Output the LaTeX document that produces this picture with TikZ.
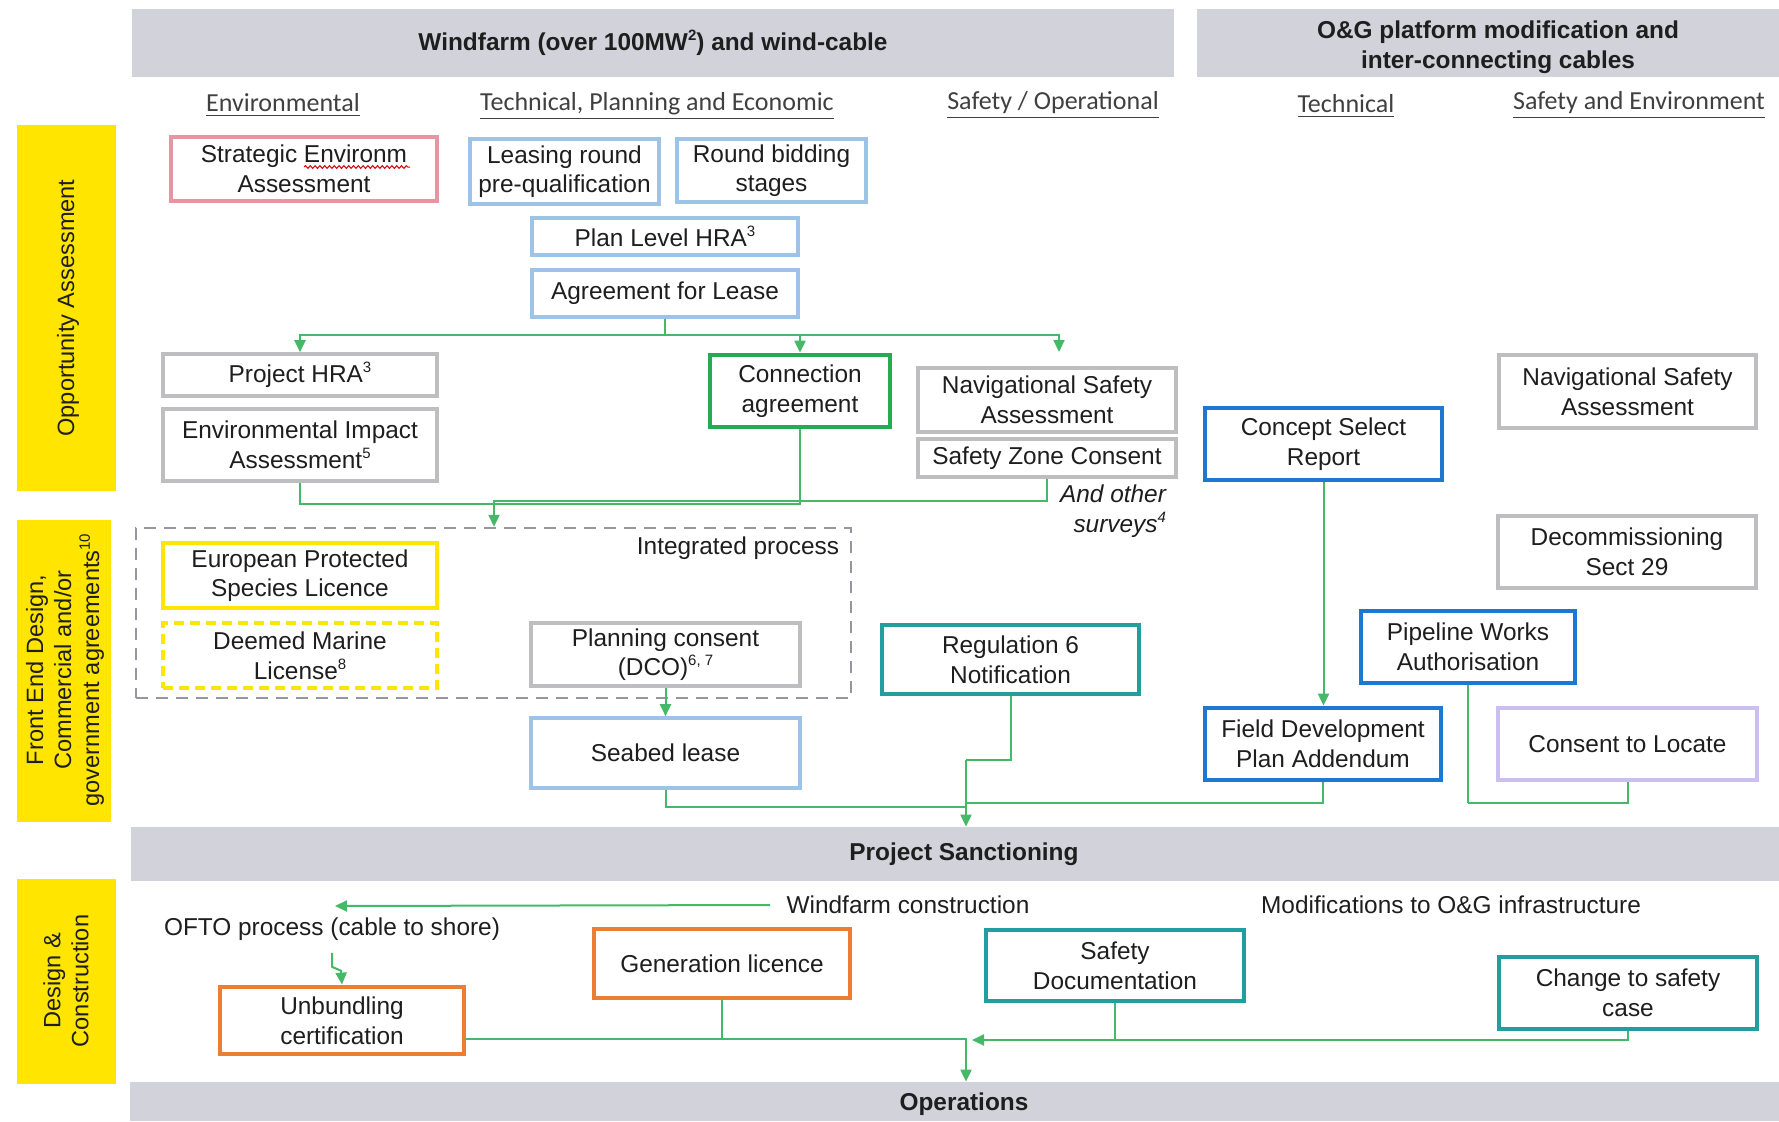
\documentclass[tikz,border=0pt]{standalone}
\usepackage{fontspec}
\setmainfont{Liberation Sans}
\newfontfamily\calibfont{Carlito}
\usetikzlibrary{arrows.meta,decorations.pathmorphing}
\definecolor{bandc}{RGB}{210,211,218}
\definecolor{ybar}{RGB}{255,229,0}
\definecolor{lblue}{RGB}{157,195,230}
\definecolor{pinkb}{RGB}{230,150,162}
\definecolor{grayb}{RGB}{190,190,192}
\definecolor{greenb}{RGB}{40,170,80}
\definecolor{blueb}{RGB}{30,120,210}
\definecolor{tealb}{RGB}{35,158,158}
\definecolor{orangeb}{RGB}{237,125,49}
\definecolor{lavb}{RGB}{205,190,240}
\definecolor{conng}{RGB}{70,185,105}
\definecolor{dashg}{RGB}{150,150,160}
\definecolor{txt}{RGB}{30,30,30}
\definecolor{hdtxt}{RGB}{64,64,64}
\newcommand\boxfont{\fontsize{12.2}{14.8}\selectfont}
\newcommand\barfont{\fontsize{11.8}{14}\selectfont}
\newcommand\sups[1]{\raisebox{0.75ex}{\fontsize{7.5}{8}\selectfont #1}}
% box helper: style, name, x1, y1, x2, y2, text
\newcommand\bx[7]{\node[#1, minimum width={(#5-#3)*0.5pt}, minimum height={(#6-#4)*0.5pt}] (#2) at ({(#3+#5)/2},{(#4+#6)/2}) {#7};}
\begin{document}
\begin{tikzpicture}[x=0.5pt,y=-0.5pt,
  every node/.style={text=txt},
  box/.style={draw, fill=white, inner sep=0pt, align=center, font=\boxfont},
  lbbox/.style={box, draw=lblue, line width=1.8pt},
  pkbox/.style={box, draw=pinkb, line width=1.6pt},
  grbox/.style={box, draw=grayb, line width=1.8pt},
  gnbox/.style={box, draw=greenb, line width=2.4pt},
  blbox/.style={box, draw=blueb, line width=2.4pt},
  tlbox/.style={box, draw=tealb, line width=2.4pt},
  orbox/.style={box, draw=orangeb, line width=2.4pt},
  lvbox/.style={box, draw=lavb, line width=2pt},
  ylbox/.style={box, draw=ybar, line width=2pt},
  bandbox/.style={fill=bandc, draw=none, inner sep=0pt},
  ybarbox/.style={fill=ybar, draw=none, inner sep=0pt},
  dashbox/.style={draw=dashg, line width=1.2pt, dash pattern=on 6pt off 4pt, inner sep=0pt},
  hdr/.style={font=\bfseries\boxfont, align=center},
  colh/.style={font=\calibfont\fontsize{13}{15}\selectfont, text=hdtxt},
  plain/.style={font=\boxfont, align=center},
  barlab/.style={rotate=90, font=\barfont, align=center},
  line/.style={draw=conng, line width=1pt},
  arr/.style={line, -{Triangle[length=6pt,width=5.5pt]}}
]
\useasboundingbox (0,0) rectangle (1779,1121);
\fill[white] (0,0) rectangle (1779,1121);

% bands
\bx{bandbox}{wfh}{132}{9}{1174}{77}{}
\node[hdr] (wfht) at (653,43) {Windfarm (over 100MW\sups{2}) and wind-cable};
\bx{bandbox}{ogh}{1197}{9}{1779}{77}{}
\node[hdr] (ogt) at (1498,47) {O\&G platform modification and\\inter-connecting cables};
\bx{bandbox}{ps}{131}{827}{1779}{881}{}
\node[hdr] (pst) at (964,854) {Project Sanctioning};
\bx{bandbox}{ops}{130}{1082}{1779}{1121}{}
\node[hdr] (opst) at (964,1104) {Operations};

% yellow bars
\bx{ybarbox}{oa}{17}{125}{116}{491}{}
\node[barlab] (oat) at (68,308) {Opportunity Assessment};
\bx{ybarbox}{fed}{17}{520}{111}{822}{}
\node[barlab] (fedt) at (65,670) {Front End Design,\\Commercial and/or\\government agreements\sups{10}};
\bx{ybarbox}{dc}{17}{879}{116}{1084}{}
\node[barlab] (dct) at (66,981) {Design \&\\Construction};

% column headings
\node[colh] (hEnv) at (283,105) {\underline{Environmental}};
\node[colh] (hTPE) at (657,106) {\underline{Technical, Planning and Economic}};
\node[colh] (hSO) at (1053,105) {\underline{Safety / Operational}};
\node[colh] (hTech) at (1346,106) {\underline{Technical}};
\node[colh] (hSE) at (1639,105) {\underline{Safety and Environment}};

% integrated process
\bx{dashbox}{integ}{136}{528}{851}{698}{}
\node[plain] (ipt) at (738,548) {Integrated process};

% boxes
\bx{pkbox}{sea}{171}{137}{437}{201}{Strategic Environm\\Assessment}
\draw[red!85!black, line width=0.5pt, decorate, decoration={snake, amplitude=0.7pt, segment length=2.4pt}] (304,167) -- (410,167);
\bx{lbbox}{lrp}{470}{139}{659}{204}{Leasing round\\pre-qualification}
\bx{lbbox}{rbs}{677}{139}{866}{202}{Round bidding\\stages}
\bx{lbbox}{plh}{532}{218}{798}{255}{Plan Level HRA\sups{3}}
\bx{lbbox}{afl}{532}{270}{798}{317}{Agreement for Lease}
\bx{grbox}{phra}{163}{354}{437}{396}{Project HRA\sups{3}}
\bx{grbox}{eia}{163}{409}{437}{481}{Environmental Impact\\Assessment\sups{5}}
\bx{gnbox}{conn}{710}{355}{890}{427}{Connection\\agreement}
\bx{grbox}{nsa1}{918}{368}{1176}{432}{Navigational Safety\\Assessment}
\bx{grbox}{szc}{918}{439}{1176}{477}{Safety Zone Consent}
\node[font=\itshape\boxfont, align=right] (aos) at (1113,511) {And other\\surveys\sups{4}};
\bx{blbox}{csr}{1205}{408}{1442}{480}{Concept Select\\Report}
\bx{grbox}{nsa2}{1499}{355}{1756}{428}{Navigational Safety\\Assessment}
\bx{grbox}{dec}{1498}{516}{1756}{588}{Decommissioning\\Sect 29}
\bx{ylbox}{eps}{163}{543}{437}{608}{European Protected\\Species Licence}
\bx{ylbox, dash pattern=on 5pt off 3pt}{dml}{163}{623}{437}{688}{Deemed Marine\\License\sups{8}}
\bx{grbox}{pc}{531}{623}{800}{686}{Planning consent\\(DCO)\sups{6, 7}}
\bx{lbbox}{sl}{531}{718}{800}{788}{Seabed lease}
\bx{tlbox}{reg6}{882}{625}{1139}{694}{Regulation 6\\Notification}
\bx{blbox}{pwa}{1361}{611}{1575}{683}{Pipeline Works\\Authorisation}
\bx{blbox}{fdp}{1205}{708}{1441}{780}{Field Development\\Plan Addendum}
\bx{lvbox}{ctl}{1498}{708}{1757}{780}{Consent to Locate}
\bx{orbox}{ub}{220}{987}{464}{1054}{Unbundling\\certification}
\bx{orbox}{gl}{594}{929}{850}{998}{Generation licence}
\bx{tlbox}{sd}{986}{930}{1244}{1001}{Safety\\Documentation}
\bx{tlbox}{cts}{1499}{957}{1757}{1029}{Change to safety\\case}

% free texts
\node[plain, inner sep=2pt] (ofto) at (332,929) {OFTO process (cable to shore)};
\node[plain, inner sep=8pt] (wfc) at (908,905) {Windfarm construction};
\node[plain] (mod) at (1451,905) {Modifications to O\&G infrastructure};

% connectors: opportunity assessment
\coordinate (aflj) at (665,335);
\draw[line] (afl.south) -- (aflj);
\draw[arr] (aflj) -| (phra.north);
\draw[arr] (aflj) -| (conn.north);
\coordinate (nsaTip) at (1059,352);
\draw[arr] (aflj) -| (nsaTip);
\coordinate (ej) at (800,504);
\draw[line] (eia.south) |- (ej) -- (conn.south);
\coordinate (sj) at (494,501);
\draw[arr] (szc.south) |- (sj) -- (sj |- integ.north);

% front end
\draw[arr] (pc.south) -- (pc.south |- sl.north);
\draw[arr] (csr.south) -- (csr.south |- fdp.north);
\coordinate (sbj) at (966,807);
\draw[line] (sl.south) |- (sbj);
\coordinate (rgj) at (966,760);
\draw[line] (reg6.south) |- (rgj);
\draw[arr] (rgj) -- (rgj |- ps.north);
\coordinate (fdj) at (966,803);
\draw[line] (fdp.south) |- (fdj);
\draw[line] (pwa.south) -- (pwa.south |- fdj);
\draw[line] (ctl.south) |- (pwa.south |- fdj);

% design & construction
\coordinate (wfcEnd) at (335,906);
\draw[arr] (wfc.west) -- (wfcEnd);
\draw[arr, shorten <=4pt] (ofto.south) -- ++(0,22) -- ++(9,4) -- (ub.north);
\coordinate (bj) at (966,1039);
\draw[arr] (ub.east |- bj) -- (bj) -- (bj |- ops.north);
\draw[line] (gl.south) -- (gl.south |- bj);
\coordinate (sdj) at (972,1040);
\draw[arr] (sd.south) |- (sdj);
\draw[line] (cts.south) |- (sd.south |- sdj);
\end{tikzpicture}
\end{document}
